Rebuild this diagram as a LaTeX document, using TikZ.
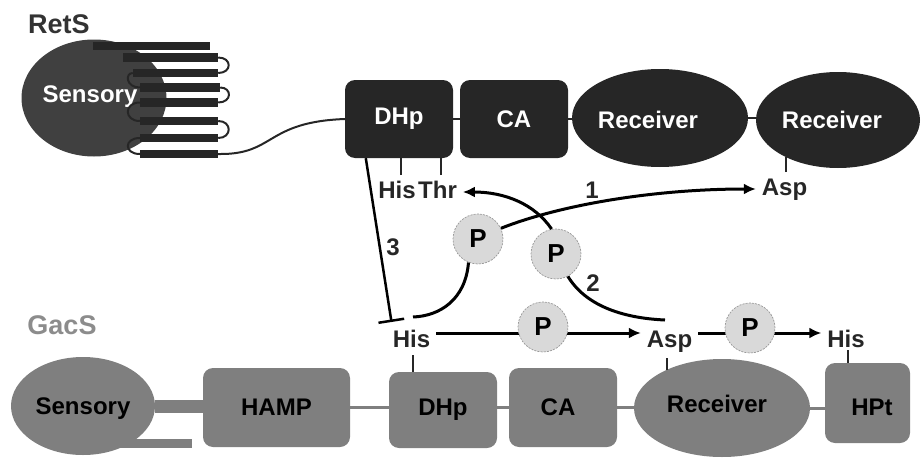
\documentclass[tikz,border=0pt]{standalone}
\usepackage{fontspec}
\setmainfont{Liberation Sans}
\usetikzlibrary{arrows.meta,shapes.geometric,backgrounds}

\definecolor{retdark}{HTML}{262626}
\definecolor{retsens}{HTML}{404040}
\definecolor{rettitle}{HTML}{333333}
\definecolor{gacgray}{HTML}{7F7F7F}
\definecolor{gactitle}{HTML}{8C8C8C}
\definecolor{pfill}{HTML}{D9D9D9}

\tikzset{
  boxfont/.style={font=\fontsize{24}{28}\selectfont\bfseries, inner sep=0pt},
  retbox/.style={boxfont, rectangle, rounded corners=10pt, fill=retdark, text=white, minimum width=108pt, minimum height=78pt},
  retoval/.style={boxfont, ellipse, fill=retdark, text=white},
  gacbox/.style={boxfont, rectangle, rounded corners=10pt, fill=gacgray, text=black},
  gacoval/.style={boxfont, ellipse, fill=gacgray, text=black},
  helix/.style={rectangle, fill=retdark, inner sep=0pt, minimum height=8.5pt},
  residue/.style={font=\fontsize{24}{28}\selectfont\bfseries, text=retdark, inner sep=0pt, outer sep=6pt, text height=17pt, text depth=5pt, anchor=base},
  protname/.style={font=\fontsize{27}{32}\selectfont\bfseries, inner sep=0pt},
  numlab/.style={font=\fontsize{24}{28}\selectfont\bfseries, text=retdark, inner sep=0pt},
  phos/.style={circle, fill=pfill, draw=black!40, dash pattern=on 2pt off 1.2pt, line width=0.7pt, minimum size=50pt, inner sep=0pt, font=\fontsize{26}{30}\selectfont\bfseries},
  arr/.style={draw=black, line width=3pt, -{Latex[length=12pt,width=11pt]}},
  conn/.style={draw=black, line width=3pt},
  inhib/.style={draw=black, line width=2.5pt, -{Bar[width=26pt]}},
  ticklink/.style={draw=retdark, line width=1.5pt},
  topline/.style={draw=retdark, line width=2pt},
  gline/.style={draw=gacgray, line width=3pt},
}

\begin{document}
\begin{tikzpicture}[x=1pt,y=-1pt]
\useasboundingbox (0,0) rectangle (922,458);

% ================= RetS =================
\node[protname, text=rettitle] (retsName) at (59,24) {RetS};
\node[ellipse, fill=retsens, inner sep=0pt, minimum width=145pt, minimum height=117pt] (sensR) at (94,98) {};
\node[boxfont, text=white] (sensRlab) at (90,97) {Sensory};

% transmembrane helices
\node[helix, minimum width=117pt] (h1) at (151.5,46) {};
\node[helix, minimum width=95pt] (h2) at (170.5,57.5) {};
\node[helix, minimum width=85pt] (h3) at (175.5,73) {};
\node[helix, minimum width=80pt] (h4) at (180,87.5) {};
\node[helix, minimum width=78pt] (h5) at (179,102.5) {};
\node[helix, minimum width=78pt] (h6) at (179,121) {};
\node[helix, minimum width=78pt] (h7) at (179,138) {};
\node[helix, minimum width=78pt] (h8) at (179,154) {};
\draw[topline] (h2.east) .. controls +(14,0) and +(14,0) .. (h3.east);
\draw[topline] (h3.west) .. controls +(-8,0) and +(-14,0) .. (h4.west);
\draw[topline] (h4.east) .. controls +(12,0) and +(14,0) .. (h5.east);
\draw[topline] (h5.west) .. controls +(-16,0) and +(-16,0) .. (h6.west);
\draw[topline] (h6.east) .. controls +(14,0) and +(14,0) .. (h7.east);
\draw[topline] (h7.west) .. controls +(-16,0) and +(-16,0) .. (h8.west);

% cytoplasmic domains
\node[retbox] (dhpR) at (399,119) {DHp};
\node[retbox] (caR) at (514,119) {CA};
\node[retoval, minimum width=176pt, minimum height=98pt] (rec1R) at (660,118) {};
\node[boxfont, text=white] (rec1Rlab) at (648,120) {Receiver};
\node[retoval, minimum width=164pt, minimum height=96pt] (rec2R) at (838,120) {};
\node[boxfont, text=white] (rec2Rlab) at (832,120) {Receiver};

\draw[topline] (h8.east) .. controls +(57,1) and +(-80,3) .. (dhpR.west);
\draw[topline] (dhpR.east) -- (caR.west);
\draw[topline] (caR.east) -- (caR.east -| rec1R.west);
\draw[topline] (rec1R.east) -- (rec1R.east -| rec2R.west);

% RetS residues
\node[residue] (hisR) at (397,198) {His};
\node[residue] (thrR) at (437.5,198) {Thr};
\node[residue] (aspR) at (784.5,195) {Asp};
\draw[ticklink] ([xshift=4pt]hisR.north) -- ([xshift=4pt]hisR.north |- dhpR.south);
\draw[ticklink] ([xshift=3.5pt]thrR.north) -- ([xshift=3.5pt]thrR.north |- dhpR.south);
\draw[ticklink] ([xshift=1.5pt]aspR.north) -- ([xshift=1.5pt]aspR.north |- rec2R.215);

% ================= GacS =================
\node[protname, text=gactitle] (gacsName) at (62,325) {GacS};
\node[gacoval, minimum width=144pt, minimum height=98pt] (sensG) at (83,406) {};
\node[boxfont] (sensGlab) at (83,409) {Sensory};
\node[gacbox, minimum width=147pt, minimum height=79pt] (hampG) at (276.5,407.5) {HAMP};
\node[gacbox, minimum width=108pt, minimum height=76pt] (dhpG) at (443,410) {DHp};
\node[gacbox, minimum width=108pt, minimum height=79pt] (caG) at (563,407.5) {};
\node[boxfont] (caGlab) at (558,407) {CA};
\node[gacoval, minimum width=176pt, minimum height=98pt] (recG) at (722,408) {};
\node[boxfont] (recGlab) at (717,404) {Receiver};
\node[gacbox, minimum width=85pt, minimum height=80pt] (hptG) at (867.5,403) {};
\node[boxfont] (hptGlab) at (872,407) {HPt};
\node[fill=gacgray, inner sep=0pt, minimum width=75pt, minimum height=9pt] (tailG) at (154.5,443.5) {};

\begin{scope}[on background layer]
  \draw[draw=gacgray, line width=13pt] (sensG.east) -- (sensG.east -| hampG.west);
\end{scope}
\draw[gline] (hampG.east) -- (hampG.east -| dhpG.west);
\draw[gline] (caG.west -| dhpG.east) -- (caG.west);
\draw[gline] (caG.east) -- (caG.east -| recG.west);
\draw[gline] (recG.east) -- (recG.east -| hptG.west);

% GacS residues
\node[residue] (hisG) at (411.5,347) {His};
\node[residue] (aspG) at (669.5,347) {Asp};
\node[residue] (hisG2) at (846,347) {His};
\draw[ticklink] ([xshift=1.5pt,yshift=3pt]hisG.south) -- ([xshift=1.5pt]hisG.south |- dhpG.north);
\draw[ticklink] ([xshift=-2.5pt]aspG.south) -- ([xshift=-2.5pt]aspG.south |- recG.145);
\draw[ticklink] ([xshift=2pt,yshift=8pt]hisG2.south) -- ([xshift=2pt]hisG2.south |- hptG.north);

% ================= phosphotransfer =================
\node[phos] (p1) at (478,239) {P};
\node[phos] (p2) at (556,254) {P};
\node[phos] (p3) at (543,327) {P};
\node[phos] (p4) at (750,328) {P};

\coordinate (hisTop) at (413,317);
\coordinate (aspTop) at (665,320);

\begin{scope}[on background layer]
  \draw[arr] ([yshift=8pt]hisG.east) -- ([yshift=8pt]aspG.west);
  \draw[arr] ([yshift=8pt]aspG.east) -- ([yshift=8pt]hisG2.west);
\end{scope}

\draw[arr] (p1.25) .. controls +(58,-23) and +(-103,0) .. (aspR.west);
\draw[arr] (p2.100) .. controls +(-17,-25) and +(42,0) .. (thrR.east);
\draw[conn] (p1.248) .. controls +(-3,37) and +(27,-1) .. (hisTop);
\draw[conn] (p2.-62) .. controls +(17,28) and +(-45,-2) .. (aspTop);
\draw[inhib] ([xshift=21pt]dhpR.south west) -- ([xshift=-20pt,yshift=2pt]hisG.north);

\node[numlab] (n1) at (592,190) {1};
\node[numlab] (n2) at (593,283) {2};
\node[numlab] (n3) at (393,247) {3};
\end{tikzpicture}
\end{document}
